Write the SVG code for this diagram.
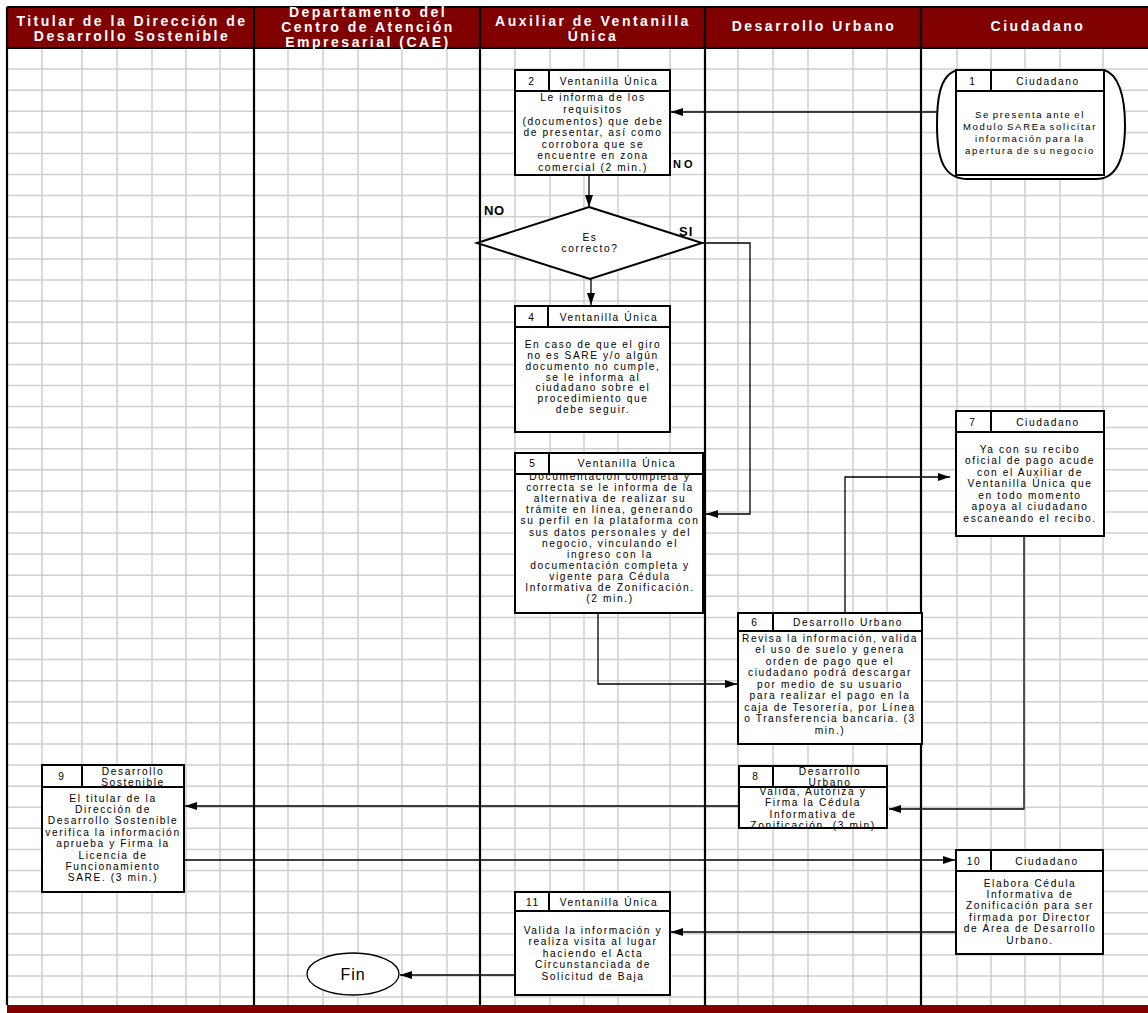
<svg xmlns="http://www.w3.org/2000/svg" width="1148" height="1013" viewBox="0 0 1148 1013">
<style>
.grid{stroke:#d0d0d0;stroke-width:1.5;fill:none}
.lane{stroke:#000;stroke-width:2.2;fill:none}
.hd{font-family:"Liberation Sans",Arial,sans-serif;font-weight:bold;font-size:14px;fill:#fff;letter-spacing:2.5px;text-anchor:middle}
.box{fill:#fff;stroke:#000;stroke-width:2}
.ln{stroke:#000;stroke-width:2;fill:none}
.t{font-family:"Liberation Sans",Arial,sans-serif;font-size:10.2px;letter-spacing:1.6px;text-anchor:middle;fill:#000}
.t1{font-family:"Liberation Sans",Arial,sans-serif;font-size:9.5px;letter-spacing:1.7px;word-spacing:-1.5px;text-anchor:middle;fill:#000}
.lb{font-family:"Liberation Sans",Arial,sans-serif;font-weight:bold;fill:#000}
.c{stroke:#000;stroke-width:1.3;fill:none}
</style>
<defs>
<marker id="ah" viewBox="0 0 12 8" refX="12" refY="4" markerWidth="12" markerHeight="8" markerUnits="userSpaceOnUse" orient="auto"><path d="M0,0 L12,4 L0,8 z" fill="#000"/></marker>
</defs>
<rect x="0" y="0" width="1148" height="1013" fill="#fff"/>
<g id="grid">
<path class="grid" d="M8,69.1H1148M8,90.2H1148M8,111.3H1148M8,132.4H1148M8,153.5H1148M8,174.5H1148M8,195.6H1148M8,216.7H1148M8,237.8H1148M8,258.9H1148M8,280H1148M8,301.1H1148M8,322.2H1148M8,343.2H1148M8,364.4H1148M8,385.4H1148M8,406.5H1148M8,427.6H1148M8,448.7H1148M8,469.8H1148M8,490.9H1148M8,512H1148M8,533H1148M8,554.1H1148M8,575.2H1148M8,596.3H1148M8,617.4H1148M8,638.5H1148M8,659.6H1148M8,680.7H1148M8,701.8H1148M8,722.8H1148M8,743.9H1148M8,765H1148M8,786.2H1148M8,807.2H1148M8,828.3H1148M8,849.4H1148M8,870.5H1148M8,891.6H1148M8,912.7H1148M8,933.8H1148M8,954.9H1148M8,976H1148M8,997H1148"/>
<path class="grid" d="M42,48V1005M82,48V1005M117,48V1005M152,48V1005M186,48V1005M220,48V1005M288,48V1005M323,48V1005M358,48V1005M402,48V1005M447,48V1005M515,48V1005M550,48V1005M584,48V1005M618,48V1005M670,48V1005M738,48V1005M773,48V1005M808,48V1005M853,48V1005M887,48V1005M957,48V1005M991,48V1005M1025,48V1005M1060,48V1005M1103,48V1005"/>
</g>
<g id="header">
<rect x="7" y="7" width="1141" height="41" fill="#800000"/>
<path class="lane" d="M7,7H1148M7,48H1148"/>
<text class="hd" x="132" y="26">Titular de la Dirección de</text>
<text class="hd" x="132" y="41">Desarrollo Sostenible</text>
<text class="hd" x="368" y="17">Departamento del</text>
<text class="hd" x="368" y="32">Centro de Atención</text>
<text class="hd" x="368" y="46.5">Empresarial (CAE)</text>
<text class="hd" x="593" y="26">Auxiliar de Ventanilla</text>
<text class="hd" x="593" y="41">Única</text>
<text class="hd" x="814" y="31">Desarrollo Urbano</text>
<text class="hd" x="1038" y="31">Ciudadano</text>
</g>
<g id="lanes">
<path class="lane" d="M7,7V1005M254,7V1005M480,7V1005M705,7V1005M921,7V1005"/>
<rect x="7" y="1005" width="1141" height="8" fill="#800000"/>
</g>
<g id="connectors">
<path class="c" d="M937,112H671" marker-end="url(#ah)"/>
<path class="c" d="M589,176V207" marker-end="url(#ah)"/>
<path class="c" d="M591,279V305" marker-end="url(#ah)"/>
<path class="c" d="M702,243H750V514H706" marker-end="url(#ah)"/>
<path class="c" d="M598,613V684H737" marker-end="url(#ah)"/>
<path class="c" d="M845,613V477H950" marker-end="url(#ah)"/>
<path class="c" d="M1024,536V809H889" marker-end="url(#ah)"/>
<path class="c" d="M739,806H185" marker-end="url(#ah)"/>
<path class="c" d="M184,860H955" marker-end="url(#ah)"/>
<path class="c" d="M956,932H671" marker-end="url(#ah)"/>
<path class="c" d="M515,975H400" marker-end="url(#ah)"/>
</g>
<g id="labels">
<text class="lb" x="673" y="168" font-size="11" letter-spacing="3">NO</text>
<text class="lb" x="484" y="215" font-size="13" letter-spacing="0.5">NO</text>
<text class="lb" x="679" y="236" font-size="13" letter-spacing="1">SI</text>
</g>
<g id="n1">
<path class="box" d="M958,70 C938,74 937,105 937,125 C937,160 944,179 968,179 L1096,179 C1116,179 1125,160 1125,125 C1125,95 1118,74 1104,70 Z"/>
<rect class="box" x="956" y="70" width="148" height="105"/>
<path class="ln" d="M956,91H1104M991,70V91"/>
<text class="t" x="973" y="85">1</text>
<text class="t" x="1048" y="85">Ciudadano</text>
<text class="t1" x="1030" y="118">Se presenta ante el</text>
<text class="t1" x="1030" y="130">Modulo SAREa solicitar</text>
<text class="t1" x="1030" y="142">información para la</text>
<text class="t1" x="1030" y="154">apertura de su negocio</text>
</g>
<g id="n2">
<rect class="box" x="515" y="70" width="155" height="105"/>
<path class="ln" d="M515,91H670M549,70V91"/>
<text class="t" x="532" y="85">2</text>
<text class="t" x="609" y="85">Ventanilla Única</text>
<text class="t" x="593" y="101.3">Le informa de los</text>
<text class="t" x="593" y="112.9">requisitos</text>
<text class="t" x="593" y="124.5">(documentos) que debe</text>
<text class="t" x="593" y="136.1">de presentar, así como</text>
<text class="t" x="593" y="147.7">corrobora que se</text>
<text class="t" x="593" y="159.3">encuentre en zona</text>
<text class="t" x="593" y="170.9">comercial (2 min.)</text>
</g>
<g id="n3">
<polygon class="box" points="589,207 702,243 590,279 477,243"/>
<text class="t" x="590" y="240.5" font-size="9.5">Es</text>
<text class="t" x="590" y="252">correcto?</text>
</g>
<g id="n4">
<rect class="box" x="515" y="306" width="155" height="126"/>
<path class="ln" d="M515,327H670M548,306V327"/>
<text class="t" x="532" y="321">4</text>
<text class="t" x="609" y="321">Ventanilla Única</text>
<text class="t" x="593" y="347.5">En caso de que el giro</text>
<text class="t" x="593" y="358.5">no es SARE y/o algún</text>
<text class="t" x="593" y="369.5">documento no cumple,</text>
<text class="t" x="593" y="380.5">se le informa al</text>
<text class="t" x="593" y="391">ciudadano sobre el</text>
<text class="t" x="593" y="402">procedimiento que</text>
<text class="t" x="593" y="412.5">debe seguir.</text>
</g>
<g id="n5">
<rect class="box" x="515" y="453" width="188" height="160"/>
<text class="t" x="610" y="480">Documentación completa y</text>
<text class="t" x="610" y="491.1">correcta se le informa de la</text>
<text class="t" x="610" y="502.2">alternativa de realizar su</text>
<text class="t" x="610" y="513.3">trámite en línea, generando</text>
<text class="t" x="610" y="524.4">su perfil en la plataforma con</text>
<text class="t" x="610" y="535.5">sus datos personales y del</text>
<text class="t" x="610" y="546.6">negocio, vinculando el</text>
<text class="t" x="610" y="557.7">ingreso con la</text>
<text class="t" x="610" y="568.8">documentación completa y</text>
<text class="t" x="610" y="579.9">vigente para Cédula</text>
<text class="t" x="610" y="591">Informativa de Zonificación.</text>
<text class="t" x="610" y="602.1">(2 min.)</text>
<rect class="box" x="515" y="453" width="188" height="21"/>
<path class="ln" d="M549,453V474"/>
<text class="t" x="533" y="467">5</text>
<text class="t" x="627" y="467">Ventanilla Única</text>
</g>
<g id="n6">
<rect class="box" x="738" y="613" width="184" height="131"/>
<path class="ln" d="M738,631H922M773,613V631"/>
<text class="t" x="755" y="626">6</text>
<text class="t" x="848" y="626">Desarrollo Urbano</text>
<text class="t" x="830" y="641.5">Revisa la información, valida</text>
<text class="t" x="830" y="653">el uso de suelo y genera</text>
<text class="t" x="830" y="664.5">orden de pago que el</text>
<text class="t" x="830" y="676">ciudadano podrá descargar</text>
<text class="t" x="830" y="687.5">por medio de su usuario</text>
<text class="t" x="830" y="699">para realizar el pago en la</text>
<text class="t" x="830" y="710.5">caja de Tesorería, por Línea</text>
<text class="t" x="830" y="722">o Transferencia bancaria. (3</text>
<text class="t" x="830" y="733.5">min.)</text>
</g>
<g id="n7">
<rect class="box" x="956" y="411" width="148" height="125"/>
<path class="ln" d="M956,432H1104M991,411V432"/>
<text class="t" x="973" y="426">7</text>
<text class="t" x="1048" y="426">Ciudadano</text>
<text class="t" x="1030" y="452.5">Ya con su recibo</text>
<text class="t" x="1030" y="464">oficial de pago acude</text>
<text class="t" x="1030" y="475.5">con el Auxiliar de</text>
<text class="t" x="1030" y="487">Ventanilla Única que</text>
<text class="t" x="1030" y="498.5">en todo momento</text>
<text class="t" x="1030" y="510">apoya al ciudadano</text>
<text class="t" x="1030" y="521.5">escaneando el recibo.</text>
</g>
<g id="n8">
<rect class="box" x="739" y="766" width="148" height="62"/>
<text class="t" x="813" y="794.5">Valida, Autoriza y</text>
<text class="t" x="813" y="806">Firma la Cédula</text>
<text class="t" x="813" y="817.5">Informativa de</text>
<text class="t" x="813" y="829">Zonificación. (3 min)</text>
<rect class="box" x="739" y="766" width="148" height="21"/>
<path class="ln" d="M773,766V787M739,828H887"/>
<text class="t" x="756" y="780">8</text>
<text class="t" x="830" y="774.5">Desarrollo</text>
<text class="t" x="830" y="785.5">Urbano</text>
</g>
<g id="n9">
<rect class="box" x="42" y="765" width="142" height="127"/>
<path class="ln" d="M42,787H184M82,765V787"/>
<text class="t" x="62" y="780">9</text>
<text class="t" x="133" y="774.5">Desarrollo</text>
<text class="t" x="133" y="785.5">Sostenible</text>
<text class="t" x="113" y="801.5">El titular de la</text>
<text class="t" x="113" y="812.9">Dirección de</text>
<text class="t" x="113" y="824.3">Desarrollo Sostenible</text>
<text class="t" x="113" y="835.7">verifica la información</text>
<text class="t" x="113" y="847.1">aprueba y Firma la</text>
<text class="t" x="113" y="858.5">Licencia de</text>
<text class="t" x="113" y="869.9">Funcionamiento</text>
<text class="t" x="113" y="881.3">SARE. (3 min.)</text>
</g>
<g id="n10">
<rect class="box" x="956" y="850" width="147" height="104"/>
<path class="ln" d="M956,871H1103M991,850V871"/>
<text class="t" x="974" y="865">10</text>
<text class="t" x="1047" y="865">Ciudadano</text>
<text class="t" x="1030" y="886.5">Elabora Cédula</text>
<text class="t" x="1030" y="897.9">Informativa de</text>
<text class="t" x="1030" y="909.3">Zonificación para ser</text>
<text class="t" x="1030" y="920.7">firmada por Director</text>
<text class="t" x="1030" y="932.1">de Área de Desarrollo</text>
<text class="t" x="1030" y="943.5">Urbano.</text>
</g>
<g id="n11">
<rect class="box" x="515" y="892" width="155" height="103"/>
<path class="ln" d="M515,911H670M549,892V911"/>
<text class="t" x="533" y="906">11</text>
<text class="t" x="609" y="906">Ventanilla Única</text>
<text class="t" x="593" y="933.5">Valida la información y</text>
<text class="t" x="593" y="945.1">realiza visita al lugar</text>
<text class="t" x="593" y="956.7">haciendo el Acta</text>
<text class="t" x="593" y="968.3">Circunstanciada de</text>
<text class="t" x="593" y="979.9">Solicitud de Baja</text>
</g>
<g id="fin">
<ellipse cx="353" cy="974" rx="46" ry="21" fill="#fff" stroke="#000" stroke-width="1.3"/>
<text x="353" y="980" font-family="Liberation Sans, Arial, sans-serif" font-size="16" letter-spacing="1" text-anchor="middle">Fin</text>
</g>
</svg>
